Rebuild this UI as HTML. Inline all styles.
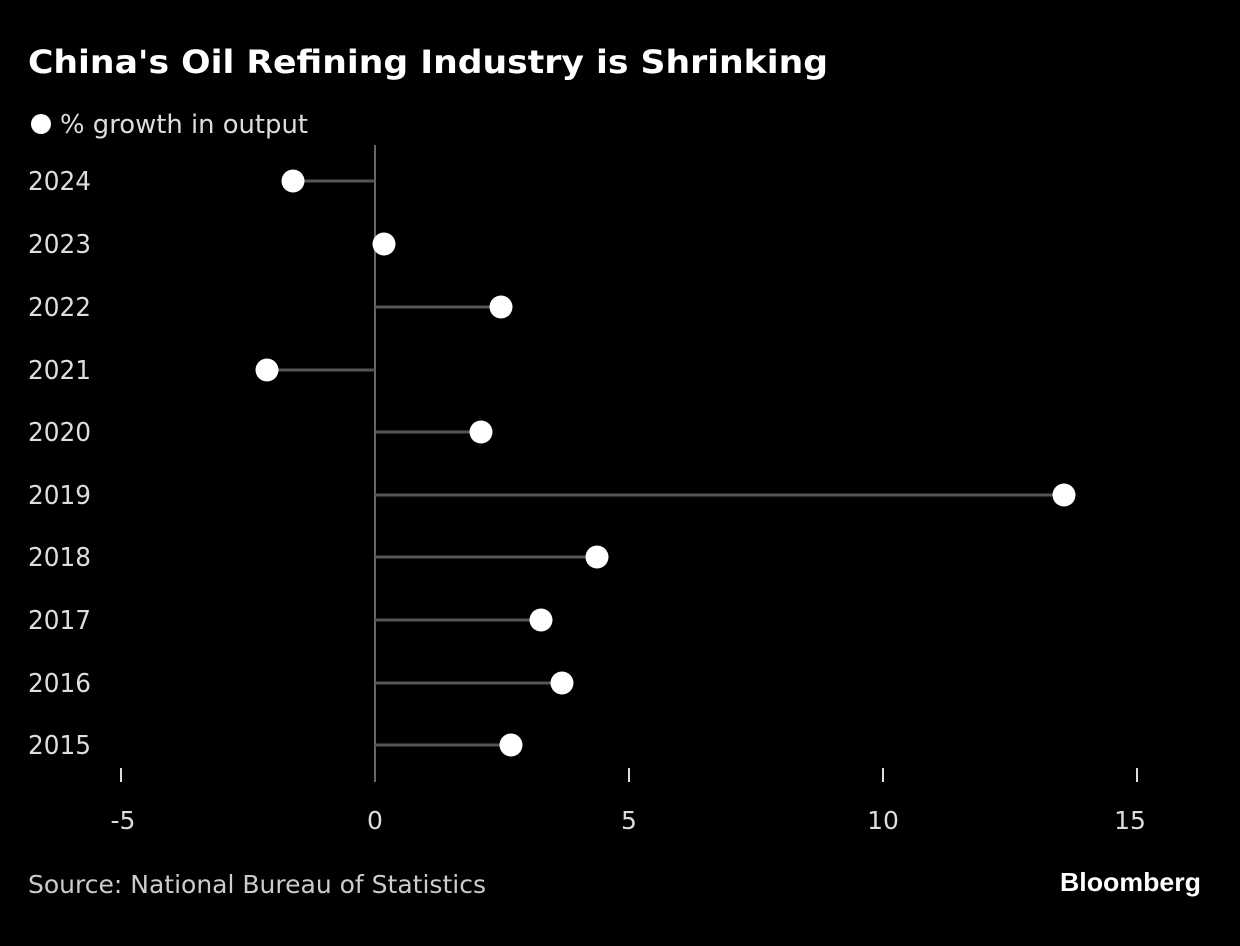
<!DOCTYPE html>
<html><head><meta charset="utf-8"><style>
body{margin:0;background:#000;width:1240px;height:942px;overflow:hidden;font-family:"DejaVu Sans",sans-serif}
</style></head><body>
<svg width="1240" height="942" xmlns="http://www.w3.org/2000/svg" font-family="DejaVu Sans, sans-serif">
<rect width="1240" height="942" fill="#000"/>
<text x="28" y="73" fill="#fff" font-size="32" font-weight="bold" textLength="800" lengthAdjust="spacingAndGlyphs">China's Oil Refining Industry is Shrinking</text>
<circle cx="41" cy="124" r="10" fill="#fff"/>
<text x="60" y="133" fill="#ddd" font-size="26" textLength="248" lengthAdjust="spacingAndGlyphs">% growth in output</text>
<line x1="375" y1="145" x2="375" y2="782" stroke="#666" stroke-width="2"/>
<g stroke="#ddd" stroke-width="2">
<line x1="121" y1="768" x2="121" y2="782"/><line x1="629" y1="768" x2="629" y2="782"/>
<line x1="883" y1="768" x2="883" y2="782"/><line x1="1137" y1="768" x2="1137" y2="782"/>
</g>
<g fill="#ddd" font-size="25" text-anchor="middle">
<text x="123" y="829">-5</text><text x="375" y="829">0</text><text x="629" y="829">5</text><text x="883" y="829">10</text><text x="1130" y="829">15</text>
</g>
<g stroke="#555" stroke-width="3">
<line x1="375" y1="181" x2="293" y2="181"/><line x1="375" y1="244" x2="384" y2="244"/>
<line x1="375" y1="307" x2="501" y2="307"/><line x1="375" y1="370" x2="267" y2="370"/>
<line x1="375" y1="432" x2="481" y2="432"/><line x1="375" y1="495" x2="1064" y2="495"/>
<line x1="375" y1="557" x2="597" y2="557"/><line x1="375" y1="620" x2="541" y2="620"/>
<line x1="375" y1="683" x2="562" y2="683"/><line x1="375" y1="745" x2="511" y2="745"/>
</g>
<g fill="#fff">
<circle cx="293" cy="181" r="11.5"/><circle cx="384" cy="244" r="11.5"/><circle cx="501" cy="307" r="11.5"/>
<circle cx="267" cy="370" r="11.5"/><circle cx="481" cy="432" r="11.5"/><circle cx="1064" cy="495" r="11.5"/>
<circle cx="597" cy="557" r="11.5"/><circle cx="541" cy="620" r="11.5"/><circle cx="562" cy="683" r="11.5"/>
<circle cx="511" cy="745" r="11.5"/>
</g>
<g fill="#ddd" font-size="26">
<text x="28" y="190" textLength="63" lengthAdjust="spacingAndGlyphs">2024</text>
<text x="28" y="253" textLength="63" lengthAdjust="spacingAndGlyphs">2023</text>
<text x="28" y="316" textLength="63" lengthAdjust="spacingAndGlyphs">2022</text>
<text x="28" y="379" textLength="63" lengthAdjust="spacingAndGlyphs">2021</text>
<text x="28" y="441" textLength="63" lengthAdjust="spacingAndGlyphs">2020</text>
<text x="28" y="504" textLength="63" lengthAdjust="spacingAndGlyphs">2019</text>
<text x="28" y="566" textLength="63" lengthAdjust="spacingAndGlyphs">2018</text>
<text x="28" y="629" textLength="63" lengthAdjust="spacingAndGlyphs">2017</text>
<text x="28" y="692" textLength="63" lengthAdjust="spacingAndGlyphs">2016</text>
<text x="28" y="754" textLength="63" lengthAdjust="spacingAndGlyphs">2015</text>
</g>
<text x="28" y="893" fill="#ccc" font-size="25" textLength="458" lengthAdjust="spacingAndGlyphs">Source: National Bureau of Statistics</text>
<text x="1060" y="891" fill="#fff" font-family="Liberation Sans, sans-serif" font-size="26" font-weight="bold" textLength="141" lengthAdjust="spacingAndGlyphs">Bloomberg</text>
</svg>
</body></html>
